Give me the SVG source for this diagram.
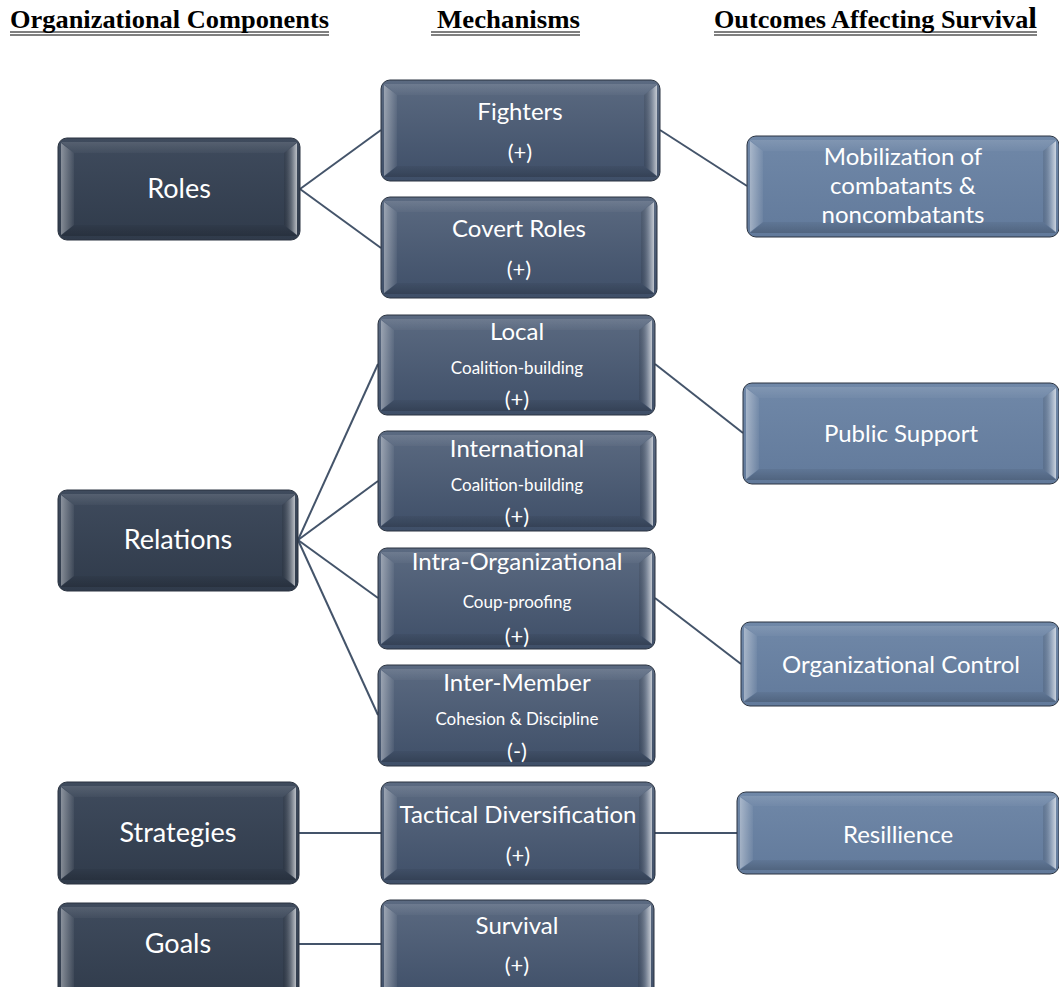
<svg xmlns="http://www.w3.org/2000/svg" width="1059" height="987" viewBox="0 0 1059 987">
<defs>
<linearGradient id="gL" x1="0" y1="0" x2="0" y2="1"><stop offset="0" stop-color="#3f4b5d"/><stop offset="1" stop-color="#303b4b"/></linearGradient>
<linearGradient id="gM" x1="0" y1="0" x2="0" y2="1"><stop offset="0" stop-color="#5b6a81"/><stop offset="1" stop-color="#3f4f68"/></linearGradient>
<linearGradient id="gR" x1="0" y1="0" x2="0" y2="1"><stop offset="0" stop-color="#7088a8"/><stop offset="1" stop-color="#627a9b"/></linearGradient>
<linearGradient id="bvL" x1="0" y1="0" x2="1" y2="0"><stop offset="0" stop-color="#ffffff" stop-opacity="0.4"/><stop offset="1" stop-color="#ffffff" stop-opacity="0.05"/></linearGradient>
<linearGradient id="bvR" x1="0" y1="0" x2="1" y2="0"><stop offset="0" stop-color="#000000" stop-opacity="0.1"/><stop offset="0.6" stop-color="#ffffff" stop-opacity="0.25"/><stop offset="1" stop-color="#ffffff" stop-opacity="0.65"/></linearGradient>
<linearGradient id="bvT" x1="0" y1="0" x2="0" y2="1"><stop offset="0" stop-color="#ffffff" stop-opacity="0.12"/><stop offset="1" stop-color="#ffffff" stop-opacity="0.03"/></linearGradient>
<linearGradient id="bvB" x1="0" y1="0" x2="0" y2="1"><stop offset="0" stop-color="#000000" stop-opacity="0.05"/><stop offset="1" stop-color="#000000" stop-opacity="0.18"/></linearGradient>
</defs>
<style>
.hd{font-family:"Liberation Serif",serif;font-weight:bold;font-size:25px;fill:#000}
.ul{stroke:#000;stroke-width:1}
.box{stroke:#2a3340;stroke-width:1}
.L{fill:url(#gL)} .M{fill:url(#gM)} .R{fill:url(#gR)}
.bl{fill:url(#bvL)} .br{fill:url(#bvR)} .bt{fill:url(#bvT)} .bb{fill:url(#bvB)}
text.t{font-family:Lato,"Open Sans",sans-serif;fill:#fff;text-anchor:middle}
.lft{font-size:27px}
.big{font-size:24px}
.mid{font-size:24px}
.sm{font-size:17px}
.pm{font-size:22px}
.cn{stroke:#44546a;stroke-width:2;fill:none}
</style>

<g id="headers">
<text class="hd" x="10" y="28" textLength="319" lengthAdjust="spacingAndGlyphs">Organizational Components</text>
<line class="ul" x1="10" y1="32" x2="329" y2="32"/><line class="ul" x1="10" y1="35" x2="329" y2="35"/>
<text class="hd" x="437" y="28" textLength="143" lengthAdjust="spacingAndGlyphs">Mechanisms</text>
<line class="ul" x1="431" y1="32" x2="580" y2="32"/><line class="ul" x1="431" y1="35" x2="580" y2="35"/>
<text class="hd" x="714" y="28" textLength="323" lengthAdjust="spacingAndGlyphs">Outcomes Affecting Surviva<tspan font-size="30px">l</tspan></text>
<line class="ul" x1="714" y1="32" x2="1037" y2="32"/><line class="ul" x1="714" y1="35" x2="1037" y2="35"/>
</g>

<g id="connectors">
<line class="cn" x1="300" y1="189" x2="381" y2="130"/>
<line class="cn" x1="300" y1="189" x2="381" y2="248"/>
<line class="cn" x1="660" y1="130" x2="747" y2="186"/>
<line class="cn" x1="298" y1="540" x2="378" y2="364"/>
<line class="cn" x1="298" y1="540" x2="378" y2="481"/>
<line class="cn" x1="298" y1="540" x2="378" y2="598"/>
<line class="cn" x1="298" y1="540" x2="378" y2="715"/>
<line class="cn" x1="655" y1="364" x2="743" y2="433"/>
<line class="cn" x1="655" y1="598" x2="741" y2="664"/>
<line class="cn" x1="299" y1="833" x2="381" y2="833"/>
<line class="cn" x1="655" y1="833" x2="737" y2="833"/>
<line class="cn" x1="299" y1="944" x2="381" y2="944"/>
</g>

<!-- Left column -->
<g id="roles">
<rect class="box L" x="58" y="138" width="242" height="102" rx="9"/>
<path class="bt" d="M61,142 L297,142 L284,153 L74,153 Z"/>
<path class="bb" d="M61,236 L297,236 L284,225 L74,225 Z"/>
<path class="bl" d="M61,143 L74,153 L74,225 L61,235 Z"/>
<path class="br" d="M297,143 L284,153 L284,225 L297,235 Z"/>
<text class="t lft" x="179" y="198">Roles</text>
</g>
<g id="relations">
<rect class="box L" x="58" y="490" width="240" height="101" rx="9"/>
<path class="bt" d="M61,494 L295,494 L282,505 L74,505 Z"/>
<path class="bb" d="M61,587 L295,587 L282,576 L74,576 Z"/>
<path class="bl" d="M61,495 L74,505 L74,576 L61,586 Z"/>
<path class="br" d="M295,495 L282,505 L282,576 L295,586 Z"/>
<text class="t lft" x="178" y="549">Relations</text>
</g>
<g id="strategies">
<rect class="box L" x="58" y="782" width="241" height="102" rx="9"/>
<path class="bt" d="M61,786 L296,786 L283,797 L74,797 Z"/>
<path class="bb" d="M61,880 L296,880 L283,869 L74,869 Z"/>
<path class="bl" d="M61,787 L74,797 L74,869 L61,879 Z"/>
<path class="br" d="M296,787 L283,797 L283,869 L296,879 Z"/>
<text class="t lft" x="178" y="842">Strategies</text>
</g>
<g id="goals">
<rect class="box L" x="58" y="903" width="241" height="100" rx="9"/>
<path class="bt" d="M61,907 L296,907 L283,918 L74,918 Z"/>
<path class="bl" d="M61,908 L74,918 L74,990 L61,1000 Z"/>
<path class="br" d="M296,908 L283,918 L283,990 L296,1000 Z"/>
<text class="t lft" x="178" y="953">Goals</text>
</g>

<!-- Middle column -->
<g id="fighters">
<rect class="box M" x="381" y="80" width="279" height="101" rx="9"/>
<path class="bt" d="M384,84 L657,84 L644,95 L397,95 Z"/>
<path class="bb" d="M384,177 L657,177 L644,166 L397,166 Z"/>
<path class="bl" d="M384,85 L397,95 L397,166 L384,176 Z"/>
<path class="br" d="M657,85 L644,95 L644,166 L657,176 Z"/>
<text class="t mid" x="520" y="120">Fighters</text>
<text class="t pm" x="520" y="160">(+)</text>
</g>
<g id="covert">
<rect class="box M" x="381" y="197" width="276" height="101" rx="9"/>
<path class="bt" d="M384,201 L654,201 L641,212 L397,212 Z"/>
<path class="bb" d="M384,294 L654,294 L641,283 L397,283 Z"/>
<path class="bl" d="M384,202 L397,212 L397,283 L384,293 Z"/>
<path class="br" d="M654,202 L641,212 L641,283 L654,293 Z"/>
<text class="t mid" x="519" y="237">Covert Roles</text>
<text class="t pm" x="519" y="277">(+)</text>
</g>
<g id="local">
<rect class="box M" x="378" y="315" width="277" height="100" rx="9"/>
<path class="bt" d="M381,319 L652,319 L639,330 L394,330 Z"/>
<path class="bb" d="M381,411 L652,411 L639,400 L394,400 Z"/>
<path class="bl" d="M381,320 L394,330 L394,400 L381,410 Z"/>
<path class="br" d="M652,320 L639,330 L639,400 L652,410 Z"/>
<text class="t mid" x="517" y="340">Local</text>
<text class="t sm" x="517" y="374">Coalition-building</text>
<text class="t pm" x="517" y="407">(+)</text>
</g>
<g id="international">
<rect class="box M" x="378" y="431" width="278" height="100" rx="9"/>
<path class="bt" d="M381,435 L653,435 L640,446 L394,446 Z"/>
<path class="bb" d="M381,527 L653,527 L640,516 L394,516 Z"/>
<path class="bl" d="M381,436 L394,446 L394,516 L381,526 Z"/>
<path class="br" d="M653,436 L640,446 L640,516 L653,526 Z"/>
<text class="t mid" x="517" y="457">International</text>
<text class="t sm" x="517" y="491">Coalition-building</text>
<text class="t pm" x="517" y="524">(+)</text>
</g>
<g id="intra">
<rect class="box M" x="378" y="548" width="277" height="101" rx="9"/>
<path class="bt" d="M381,552 L652,552 L639,563 L394,563 Z"/>
<path class="bb" d="M381,645 L652,645 L639,634 L394,634 Z"/>
<path class="bl" d="M381,553 L394,563 L394,634 L381,644 Z"/>
<path class="br" d="M652,553 L639,563 L639,634 L652,644 Z"/>
<text class="t mid" x="517" y="570">Intra-Organizational</text>
<text class="t sm" x="517" y="608">Coup-proofing</text>
<text class="t pm" x="517" y="644">(+)</text>
</g>
<g id="intermember">
<rect class="box M" x="378" y="665" width="277" height="101" rx="9"/>
<path class="bt" d="M381,669 L652,669 L639,680 L394,680 Z"/>
<path class="bb" d="M381,762 L652,762 L639,751 L394,751 Z"/>
<path class="bl" d="M381,670 L394,680 L394,751 L381,761 Z"/>
<path class="br" d="M652,670 L639,680 L639,751 L652,761 Z"/>
<text class="t mid" x="517" y="691">Inter-Member</text>
<text class="t sm" x="517" y="725">Cohesion &amp; Discipline</text>
<text class="t pm" x="517" y="759">(-)</text>
</g>
<g id="tactical">
<rect class="box M" x="381" y="782" width="274" height="102" rx="9"/>
<path class="bt" d="M384,786 L652,786 L639,797 L397,797 Z"/>
<path class="bb" d="M384,880 L652,880 L639,869 L397,869 Z"/>
<path class="bl" d="M384,787 L397,797 L397,869 L384,879 Z"/>
<path class="br" d="M652,787 L639,797 L639,869 L652,879 Z"/>
<text class="t mid" x="518" y="823">Tactical Diversification</text>
<text class="t pm" x="518" y="863">(+)</text>
</g>
<g id="survival">
<rect class="box M" x="381" y="900" width="273" height="100" rx="9"/>
<path class="bt" d="M384,904 L651,904 L638,915 L397,915 Z"/>
<path class="bl" d="M384,905 L397,915 L397,987 L384,997 Z"/>
<path class="br" d="M651,905 L638,915 L638,987 L651,997 Z"/>
<text class="t mid" x="517" y="934">Survival</text>
<text class="t pm" x="517" y="973">(+)</text>
</g>

<!-- Right column -->
<g id="mobilization">
<rect class="box R" x="747" y="136" width="312" height="101" rx="9"/>
<path class="bt" d="M750,140 L1056,140 L1043,151 L763,151 Z"/>
<path class="bb" d="M750,233 L1056,233 L1043,222 L763,222 Z"/>
<path class="bl" d="M750,141 L763,151 L763,222 L750,232 Z"/>
<path class="br" d="M1056,141 L1043,151 L1043,222 L1056,232 Z"/>
<text class="t big" x="903" y="165">Mobilization of</text>
<text class="t big" x="903" y="194">combatants &amp;</text>
<text class="t big" x="903" y="223">noncombatants</text>
</g>
<g id="publicsupport">
<rect class="box R" x="743" y="383" width="316" height="101" rx="9"/>
<path class="bt" d="M746,387 L1056,387 L1043,398 L759,398 Z"/>
<path class="bb" d="M746,480 L1056,480 L1043,469 L759,469 Z"/>
<path class="bl" d="M746,388 L759,398 L759,469 L746,479 Z"/>
<path class="br" d="M1056,388 L1043,398 L1043,469 L1056,479 Z"/>
<text class="t big" x="901" y="442">Public Support</text>
</g>
<g id="orgcontrol">
<rect class="box R" x="741" y="622" width="318" height="84" rx="9"/>
<path class="bt" d="M744,626 L1056,626 L1043,636 L757,636 Z"/>
<path class="bb" d="M744,702 L1056,702 L1043,692 L757,692 Z"/>
<path class="bl" d="M744,627 L757,636 L757,692 L744,701 Z"/>
<path class="br" d="M1056,627 L1043,636 L1043,692 L1056,701 Z"/>
<text class="t big" x="901" y="673">Organizational Control</text>
</g>
<g id="resillience">
<rect class="box R" x="737" y="792" width="322" height="82" rx="9"/>
<path class="bt" d="M740,796 L1056,796 L1043,806 L753,806 Z"/>
<path class="bb" d="M740,870 L1056,870 L1043,860 L753,860 Z"/>
<path class="bl" d="M740,797 L753,806 L753,860 L740,869 Z"/>
<path class="br" d="M1056,797 L1043,806 L1043,860 L1056,869 Z"/>
<text class="t big" x="898" y="843">Resillience</text>
</g>
</svg>
